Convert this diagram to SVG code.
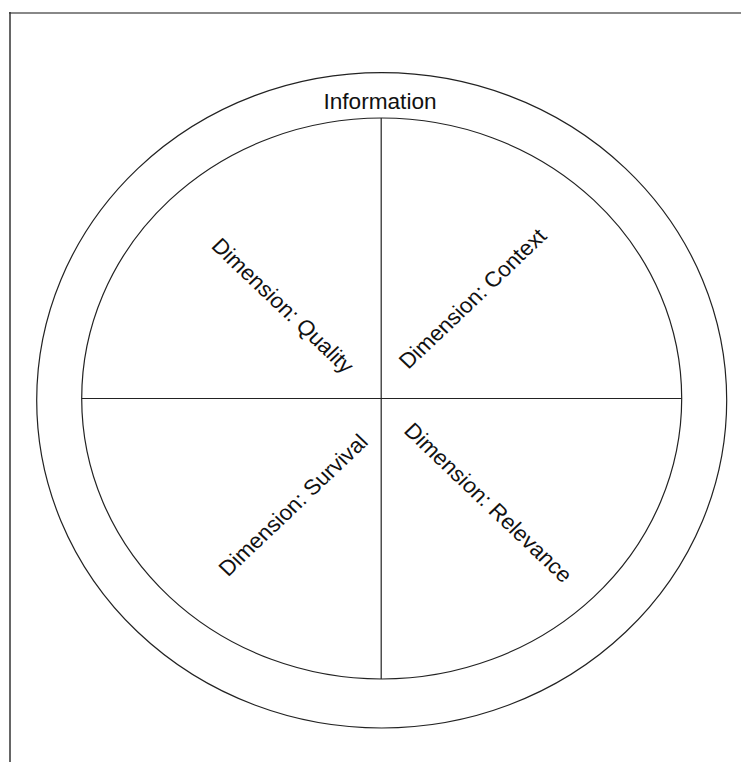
<svg xmlns="http://www.w3.org/2000/svg" width="741" height="762" viewBox="0 0 741 762">
<style>
.ln{fill:none;stroke:#222;stroke-width:1.2}
.t{font-family:"Liberation Sans",Arial,sans-serif;font-size:21.5px;fill:#111;text-anchor:middle}
</style>
<rect width="741" height="762" fill="#fff"/>
<g id="frame">
<line x1="9" y1="13" x2="741" y2="13" stroke="#888" stroke-width="2"/>
<line x1="10" y1="12" x2="10" y2="762" stroke="#333" stroke-width="1.5"/>
</g>
<g id="information">
<ellipse class="ln" cx="381.7" cy="400.3" rx="345" ry="327.7"/>
<text class="t" transform="translate(380,109) scale(1.053,1)">Information</text>
</g>
<g id="dimensions">
<ellipse class="ln" cx="381.7" cy="398.5" rx="300" ry="280.5"/>
</g>
<g id="connectors">
<line class="ln" x1="381.2" y1="118" x2="381.2" y2="679"/>
<line class="ln" x1="81.7" y1="398.5" x2="681.7" y2="398.5"/>
</g>
<g id="quality"><text class="t" dy="0.35em" transform="translate(283,305.5) scale(1.053,1) rotate(45)">Dimension: Quality</text></g>
<g id="context"><text class="t" dy="0.35em" transform="translate(472.5,298.5) scale(1.053,1) rotate(-45)">Dimension: Context</text></g>
<g id="survival"><text class="t" dy="0.35em" transform="translate(293,505) scale(1.053,1) rotate(-45)">Dimension: Survival</text></g>
<g id="relevance"><text class="t" dy="0.35em" transform="translate(488.5,502.5) scale(1.053,1) rotate(45)">Dimension: Relevance</text></g>
</svg>
